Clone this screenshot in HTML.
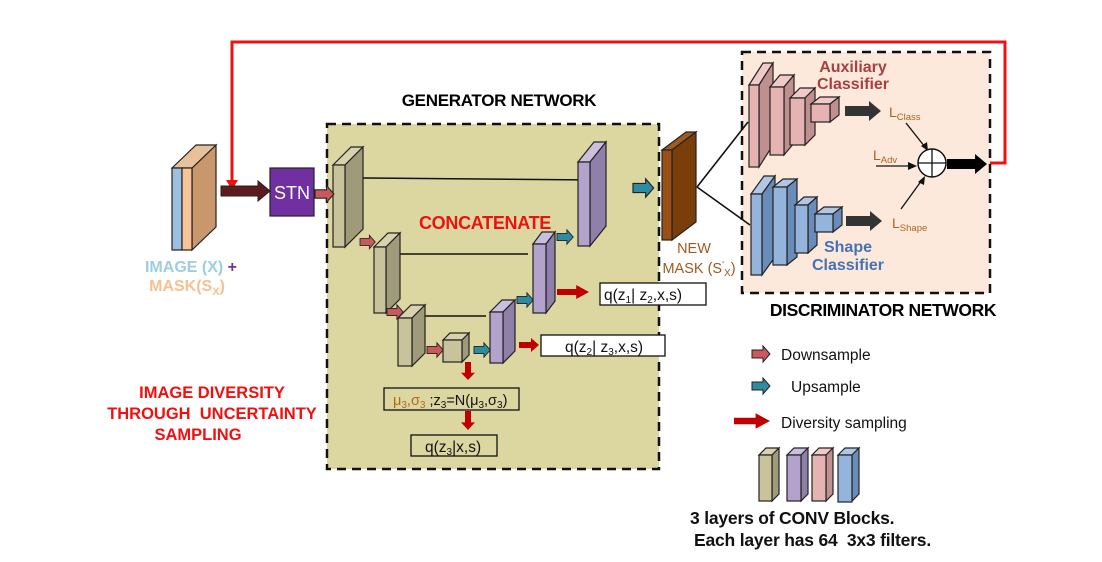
<!DOCTYPE html>
<html><head><meta charset="utf-8"><style>
body{margin:0;background:#fff}
svg{display:block;font-family:"Liberation Sans",Arial,sans-serif}
</style></head><body>
<svg width="1102" height="562" viewBox="0 0 1102 562">
<defs>
<polygon id="fa" points="0,-4 11,-4 11,-8 18,0 11,8 11,4 0,4" stroke="#222" stroke-width="1"/>
<polygon id="ra" points="0,-3 12,-3 12,-7 20,0 12,7 12,3 0,3"/>
</defs>
<polyline points="990,163 1005,163 1005,42 232,42 232,182" fill="none" stroke="#f01010" stroke-width="3"/>
<polygon points="226,180 238,180 232,190" fill="#f01010"/>

<rect x="327" y="124" width="332" height="345" fill="#dcd7a1" stroke="#111" stroke-width="2.5" stroke-dasharray="9,6"/>
<text x="499" y="106" font-size="17" font-weight="bold" text-anchor="middle" letter-spacing="-0.3">GENERATOR NETWORK</text>

<rect x="742" y="52" width="248" height="241" fill="#fce9dc" stroke="#111" stroke-width="2.5" stroke-dasharray="9,6"/>
<text x="883" y="316" font-size="17.5" font-weight="bold" text-anchor="middle" letter-spacing="-0.4">DISCRIMINATOR NETWORK</text>

<g stroke="#222" stroke-width="1.2">
<polygon points="192,168 216,145 216,227 192,250" fill="#c8976c"/>
<polygon points="172,168 196,145 216,145 192,168" fill="#e8c09a"/>
<rect x="172" y="168" width="10" height="82" fill="#9dbfe0"/>
<rect x="182" y="168" width="10" height="82" fill="#f8c495"/>
</g>
<text x="191" y="272" font-size="16" font-weight="bold" text-anchor="middle" fill="#9ccde2">IMAGE (X) <tspan fill="#7030a0">+</tspan></text>
<text x="187" y="291" font-size="16" font-weight="bold" text-anchor="middle" fill="#f7c18f">MASK(S<tspan font-size="11" dy="4">X</tspan><tspan dy="-4">)</tspan></text>

<polygon points="221,186 258,186 258,181 270,191 258,201 258,196 221,196" fill="#5c1c1c" stroke="#222"/>
<rect x="270" y="168" width="44" height="48" fill="#7030a0" stroke="#222" stroke-width="1.2"/>
<text x="292" y="199" font-size="18" fill="#fff" text-anchor="middle">STN</text>

<text x="212" y="398" font-size="16.5" font-weight="bold" fill="#f01010" text-anchor="middle">IMAGE DIVERSITY</text>
<text x="212" y="419" font-size="16.5" font-weight="bold" fill="#f01010" text-anchor="middle" xml:space="preserve">THROUGH  UNCERTAINTY</text>
<text x="198" y="440" font-size="16.5" font-weight="bold" fill="#f01010" text-anchor="middle">SAMPLING</text>

<g stroke="#111" stroke-width="1.5">
<line x1="363" y1="178" x2="597" y2="180"/>
<line x1="392" y1="254" x2="528" y2="254"/>
<line x1="425" y1="316" x2="486" y2="316"/>
</g>

<g stroke="#222" stroke-width="1.2">
<polygon points="333,165 351,147 363,147 345,165" fill="#d8d3ae"/><polygon points="345,165 363,147 363,229 345,247" fill="#9f9a7a"/><rect x="333" y="165" width="12" height="82" fill="#c9c39c"/>
<polygon points="374,247 388,233 400,233 386,247" fill="#d8d3ae"/><polygon points="386,247 400,233 400,299 386,313" fill="#9f9a7a"/><rect x="374" y="247" width="12" height="66" fill="#c9c39c"/>
<polygon points="398,318 411,305 425,305 412,318" fill="#d8d3ae"/><polygon points="412,318 425,305 425,353 412,366" fill="#9f9a7a"/><rect x="398" y="318" width="14" height="48" fill="#c9c39c"/>
<polygon points="443,340 450,333 469,333 462,340" fill="#d8d3ae"/><polygon points="462,340 469,333 469,355 462,362" fill="#9f9a7a"/><rect x="443" y="340" width="19" height="22" fill="#c9c39c"/>
<polygon points="490,312 502,300 515,300 503,312" fill="#cbbfe0"/><polygon points="503,312 515,300 515,351 503,363" fill="#8e80a8"/><rect x="490" y="312" width="13" height="51" fill="#b2a2cc"/>
<polygon points="533,244 542,232 555,232 546,244" fill="#cbbfe0"/><polygon points="546,244 555,232 555,301 546,313" fill="#8e80a8"/><rect x="533" y="244" width="13" height="69" fill="#b2a2cc"/>
<polygon points="578,162 594,142 606,142 590,162" fill="#cbbfe0"/><polygon points="590,162 606,142 606,226 590,246" fill="#8e80a8"/><rect x="578" y="162" width="12" height="84" fill="#b2a2cc"/>
<polygon points="662,150 686,132 696,132 672,150" fill="#a05a20"/><polygon points="672,150 696,132 696,222 672,240" fill="#7a3e0a"/><rect x="662" y="150" width="10" height="90" fill="#9a4f14"/>
</g>

<g fill="#c9595a">
<use href="#fa" transform="translate(315,194) scale(1.05)"/>
<use href="#fa" transform="translate(360,242) scale(0.85)"/>
<use href="#fa" transform="translate(387,312) scale(0.9)"/>
<use href="#fa" transform="translate(427,350) scale(0.9)"/>
</g>
<g fill="#2e8ba0">
<use href="#fa" transform="translate(474,350) scale(0.9)"/>
<use href="#fa" transform="translate(517,300) scale(0.9)"/>
<use href="#fa" transform="translate(557,237) scale(0.9)"/>
<use href="#fa" transform="translate(633,188) scale(1.15)"/>
</g>

<text x="485" y="229" font-size="18" font-weight="bold" fill="#f01010" text-anchor="middle" letter-spacing="-0.3">CONCATENATE</text>

<g fill="#c00000">
<use href="#ra" transform="translate(557,292) scale(1.6,1)"/>
<use href="#ra" transform="translate(519,345) scale(1,1)"/>
<use href="#ra" transform="translate(468,362) rotate(90) scale(0.9,1)"/>
<use href="#ra" transform="translate(468,411) rotate(90) scale(0.95,1)"/>
</g>

<g fill="#fff" stroke="#111" stroke-width="1.3">
<rect x="600" y="283" width="106" height="22"/>
<rect x="541" y="335" width="124" height="21"/>
<rect x="384" y="388" width="135" height="22" fill="#dcd7a1"/>
<rect x="411" y="435" width="86" height="21" fill="#dcd7a1"/>
</g>
<g font-size="15.5" fill="#111">
<text x="604" y="300">q(z<tspan font-size="10" dy="3">1</tspan><tspan dy="-3">| z</tspan><tspan font-size="10" dy="3">2</tspan><tspan dy="-3">,x,s)</tspan></text>
<text x="565" y="352">q(z<tspan font-size="10" dy="3">2</tspan><tspan dy="-3">| z</tspan><tspan font-size="10" dy="3">3</tspan><tspan dy="-3">,x,s)</tspan></text>
<text x="393" y="405" font-size="14.5"><tspan fill="#b06a20">μ</tspan><tspan fill="#b06a20" font-size="10" dy="3">3</tspan><tspan fill="#b06a20" dy="-3">,σ</tspan><tspan fill="#b06a20" font-size="10" dy="3">3</tspan><tspan dy="-3"> ;z</tspan><tspan font-size="10" dy="3">3</tspan><tspan dy="-3">=N(μ</tspan><tspan font-size="10" dy="3">3</tspan><tspan dy="-3">,σ</tspan><tspan font-size="10" dy="3">3</tspan><tspan dy="-3">)</tspan></text>
<text x="425" y="452">q(z<tspan font-size="10" dy="3">3</tspan><tspan dy="-3">|x,s)</tspan></text>
</g>

<text x="694" y="253" font-size="14.5" fill="#a0591e" text-anchor="middle">NEW</text>
<text x="699" y="273" font-size="14.5" fill="#a0591e" text-anchor="middle">MASK (S<tspan font-size="10" dy="-5">'</tspan><tspan font-size="10" dy="8">X</tspan><tspan dy="-3">)</tspan></text>

<g stroke="#111" stroke-width="1.6">
<line x1="697" y1="187" x2="748" y2="122"/>
<line x1="697" y1="187" x2="750" y2="225"/>
</g>

<g stroke="#222" stroke-width="1.2">
<polygon points="749,85 763,63 773,63 759,85" fill="#f2c9c9"/><polygon points="759,85 773,63 773,145 759,167" fill="#c09090"/><rect x="749" y="85" width="10" height="82" fill="#e6b3b3"/>
<polygon points="770,87 780,75 794,75 784,87" fill="#f2c9c9"/><polygon points="784,87 794,75 794,143 784,155" fill="#c09090"/><rect x="770" y="87" width="14" height="68" fill="#e6b3b3"/>
<polygon points="790,98 800,88 815,88 805,98" fill="#f2c9c9"/><polygon points="805,98 815,88 815,135 805,145" fill="#c09090"/><rect x="790" y="98" width="15" height="47" fill="#e6b3b3"/>
<polygon points="811,104 820,97 839,97 830,104" fill="#f2c9c9"/><polygon points="830,104 839,97 839,115 830,122" fill="#c09090"/><rect x="811" y="104" width="19" height="18" fill="#e6b3b3"/>
<polygon points="751,194 764,176 775,176 762,194" fill="#b0c8e6"/><polygon points="762,194 775,176 775,257 762,275" fill="#6a8cb8"/><rect x="751" y="194" width="11" height="81" fill="#94b4dc"/>
<polygon points="773,187 783,179 797,179 787,187" fill="#b0c8e6"/><polygon points="787,187 797,179 797,257 787,265" fill="#6a8cb8"/><rect x="773" y="187" width="14" height="78" fill="#94b4dc"/>
<polygon points="795,205 804,197 817,197 808,205" fill="#b0c8e6"/><polygon points="808,205 817,197 817,245 808,253" fill="#6a8cb8"/><rect x="795" y="205" width="13" height="48" fill="#94b4dc"/>
<polygon points="815,214 824,207 842,207 833,214" fill="#b0c8e6"/><polygon points="833,214 842,207 842,225 833,232" fill="#6a8cb8"/><rect x="815" y="214" width="18" height="18" fill="#94b4dc"/>
</g>
<text x="853" y="72" font-size="16" font-weight="bold" fill="#a8403f" text-anchor="middle">Auxiliary</text>
<text x="853" y="89" font-size="16" font-weight="bold" fill="#a8403f" text-anchor="middle">Classifier</text>
<text x="848" y="252" font-size="16" font-weight="bold" fill="#4672b4" text-anchor="middle">Shape</text>
<text x="848" y="270" font-size="16" font-weight="bold" fill="#4672b4" text-anchor="middle">Classifier</text>

<polygon points="845,106 869,106 869,101 881,111 869,121 869,116 845,116" fill="#333"/>
<polygon points="846,216 870,216 870,211 882,221 870,231 870,226 846,226" fill="#333"/>
<g font-size="14" fill="#b0621e">
<text x="889" y="117">L<tspan font-size="9.5" dy="3">Class</tspan></text>
<text x="873" y="160">L<tspan font-size="9.5" dy="3">Adv</tspan></text>
<text x="892" y="228">L<tspan font-size="9.5" dy="3">Shape</tspan></text>
</g>
<g stroke="#111" stroke-width="1.3">
<line x1="906" y1="123" x2="925" y2="147"/>
<line x1="876" y1="166" x2="912" y2="166"/>
<line x1="901" y1="209" x2="922" y2="180"/>
</g>
<polygon points="921,146 928,151 927,142" fill="#111"/>
<polygon points="908,162 917,166 908,170" fill="#111"/>
<polygon points="918,182 925,176 924,185" fill="#111"/>
<circle cx="932" cy="163" r="14" fill="#fff" stroke="#111" stroke-width="1.5"/>
<line x1="918" y1="163" x2="946" y2="163" stroke="#111" stroke-width="1.3"/>
<line x1="932" y1="149" x2="932" y2="177" stroke="#111" stroke-width="1.3"/>
<polygon points="947,159 975,159 975,154 987,164 975,174 975,169 947,169" fill="#000"/>

<use href="#fa" transform="translate(752,354)" fill="#c9595a"/>
<text x="781" y="360" font-size="15.5" fill="#111">Downsample</text>
<use href="#fa" transform="translate(752,386)" fill="#2e8ba0"/>
<text x="791" y="392" font-size="15.5" fill="#111">Upsample</text>
<use href="#ra" transform="translate(734,421) scale(1.8,1.1)" fill="#c00000"/>
<text x="781" y="428" font-size="15.5" fill="#111">Diversity sampling</text>
<g stroke="#222" stroke-width="1.2">
<polygon points="759,455 766,448 779,448 772,455" fill="#d8d3ae"/><polygon points="772,455 779,448 779,494 772,501" fill="#9f9a7a"/><rect x="759" y="455" width="13" height="46" fill="#c9c39c"/>
<polygon points="787,455 794,448 808,448 801,455" fill="#cbbfe0"/><polygon points="801,455 808,448 808,494 801,501" fill="#8e80a8"/><rect x="787" y="455" width="14" height="46" fill="#b2a2cc"/>
<polygon points="812,455 819,448 833,448 826,455" fill="#f2c9c9"/><polygon points="826,455 833,448 833,494 826,501" fill="#c09090"/><rect x="812" y="455" width="14" height="46" fill="#e6b3b3"/>
<polygon points="838,455 845,448 859,448 852,455" fill="#b0c8e6"/><polygon points="852,455 859,448 859,494 852,501" fill="#6a8cb8"/><rect x="838" y="455" width="14" height="47" fill="#94b4dc"/>
</g>
<text x="690" y="524" font-size="17.5" font-weight="bold" fill="#111" letter-spacing="-0.2">3 layers of CONV Blocks.</text>
<text x="694" y="546" font-size="17.5" font-weight="bold" fill="#111" letter-spacing="-0.2" xml:space="preserve">Each layer has 64  3x3 filters.</text>
</svg>
</body></html>
